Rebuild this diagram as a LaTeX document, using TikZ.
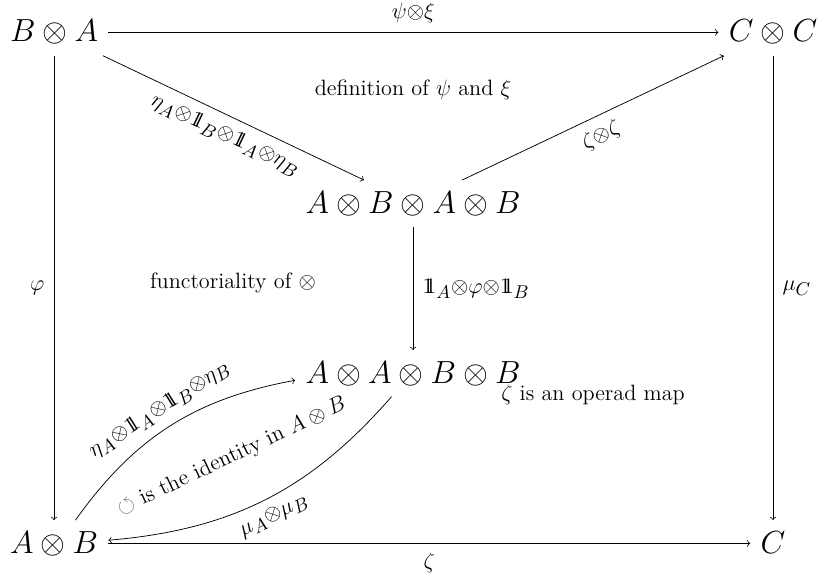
\documentclass[tikz,border=0pt]{standalone}
\usepackage{amsmath,amssymb}
\newcommand{\one}{\mathrm{1}\mkern-6.5mu\mathrm{1}}
\begin{document}
\begin{tikzpicture}[x=0.5405pt,y=-0.5405pt,
  obj/.style={font=\LARGE, inner xsep=5.4pt, inner ysep=5.5pt, text height=12.1pt, text depth=1.73pt},
  lab/.style={font=\LARGE, inner sep=5pt},
  map/.style={->},
  note/.style={font=\large}]
\useasboundingbox (0,0) rectangle (818,579);
\node[obj] (BA) at (54,32.4) {$B\otimes A$};
\node[obj] (CC) at (773,32.4) {$C\otimes C$};
\node[obj] (ABAB) at (413,203.4) {$A\otimes B\otimes A\otimes B$};
\node[obj] (AABB) at (413,373.4) {$A\otimes A\otimes B\otimes B$};
\node[obj] (AB) at (54,543.4) {$A\otimes B$};
\node[obj] (C) at (773,543.4) {$C$};

\draw[map] (BA) -- node[lab, above] {$\scriptstyle\psi\otimes\xi$} (CC);
\draw[map] (BA) -- node[lab, sloped, below] {$\scriptstyle\eta_A\otimes\one_B\otimes\one_A\otimes\eta_B$} (ABAB);
\draw[map] (ABAB) -- node[lab, sloped, below] {$\scriptstyle\zeta\otimes\zeta$} (CC);
\draw[map] (BA) -- node[lab, left] {$\scriptstyle\varphi$} (AB);
\draw[map] (CC) -- node[lab, right] {$\scriptstyle\mu_C$} (C);
\draw[map] (ABAB) -- node[lab, right] {$\scriptstyle\one_A\otimes\varphi\otimes\one_B$} (AABB);
\draw[map] (AB) -- node[lab, below] {$\scriptstyle\zeta$} (C);
\draw[map] (AB) to[bend left=22] node[lab, sloped, above] {$\scriptstyle\eta_A\otimes\one_A\otimes\one_B\otimes\eta_B$} (AABB);
\draw[map] (AABB) to[bend left=22] node[lab, sloped, below] {$\scriptstyle\mu_A\otimes\mu_B$} (AB);

\node[note] (def) at (413,90) {definition of $\psi$ and $\xi$};
\node[note] (fun) at (233,283) {functoriality of $\otimes$};
\node[note] (op) at (593,395) {$\zeta$ is an operad map};
\node[note, rotate=25.3] (id) at (232,457) {$\color{black!60}\circlearrowleft$ is the identity in $A\otimes B$};
\end{tikzpicture}
\end{document}
